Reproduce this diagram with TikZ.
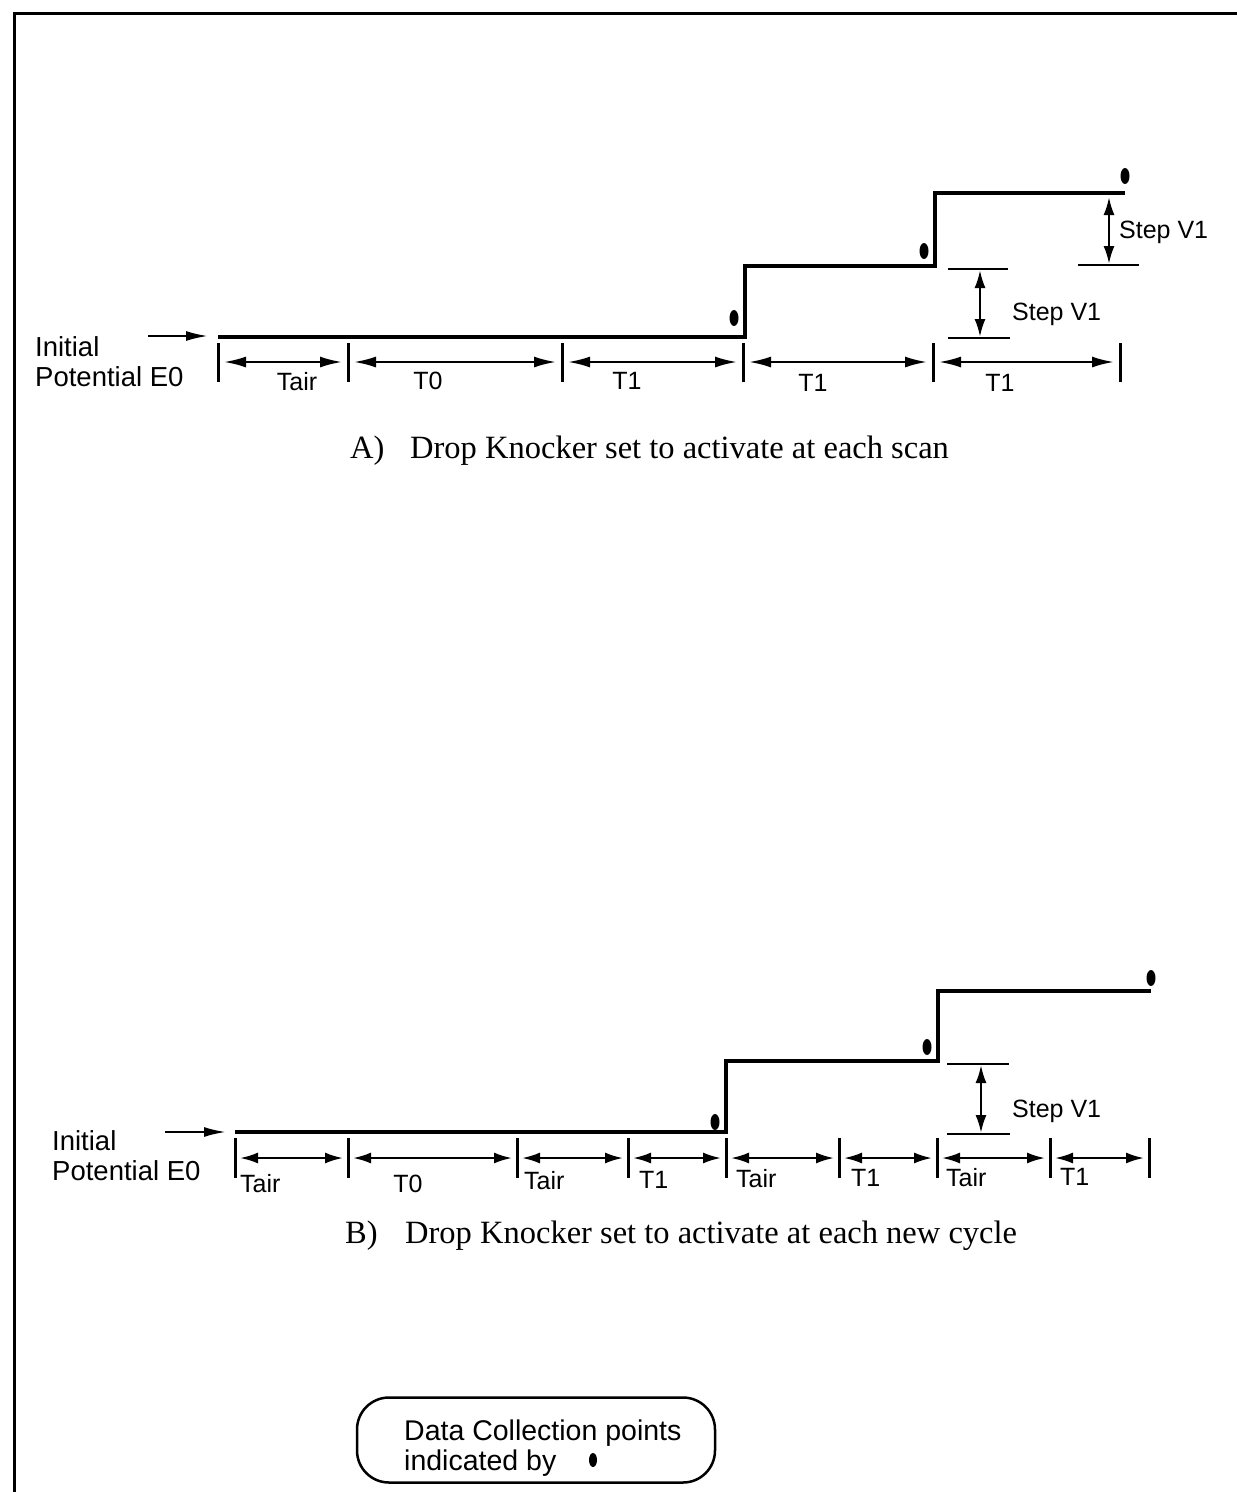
\documentclass[tikz,border=0pt]{standalone}
\usepackage{fontspec}
\setmainfont{Liberation Sans}
\newfontfamily\capfont{Liberation Serif}
\usetikzlibrary{arrows.meta}
\begin{document}
\begin{tikzpicture}[x=1pt,y=-1pt,
  frame/.style={line width=3pt},
  wave/.style={line width=4pt, line join=miter},
  tickmark/.style={line width=3pt},
  dim/.style={line width=2.2pt, {Latex[length=22pt,width=11pt]}-{Latex[length=22pt,width=11pt]}},
  sdim/.style={line width=2.2pt, {Latex[length=18pt,width=11pt]}-{Latex[length=18pt,width=11pt]}},
  vdim/.style={line width=2.4pt, {Latex[length=18pt,width=11pt]}-{Latex[length=18pt,width=11pt]}},
  ptr/.style={line width=2.2pt, -{Latex[length=22pt,width=10pt]}},
  refline/.style={line width=2.2pt},
  big/.style={font=\fontsize{27.5}{32}\selectfont, inner sep=0pt},
  lbl/.style={font=\fontsize{25}{30}\selectfont, inner sep=0pt},
  capt/.style={font=\capfont\fontsize{32.5}{38}\selectfont, inner sep=0pt, anchor=base west},
  legendbox/.style={draw, line width=2.5pt, rounded corners=32pt, minimum width=358pt, minimum height=85pt}
]
\useasboundingbox (0,0) rectangle (1237,1492);
% frame
\draw[frame] (1237,13) -- (14,13) -- (14,1492);

% ================= Panel A =================
\node[big, anchor=base west] (initA) at (35,356) {Initial};
\node[big, anchor=base west] (potA) at (35,386) {Potential E0};
\coordinate (iaS) at (148,336);
\coordinate (iaE) at (208,336);
\draw[ptr] (iaS) -- (iaE);

\coordinate (A0) at (218,337);
\coordinate (A1) at (745,337);
\coordinate (A2) at (745,266);
\coordinate (A3) at (935,266);
\coordinate (A4) at (935,193);
\coordinate (A5) at (1125,193);
\draw[wave] (A0) -- (A1) -- (A2) -- (A3) -- (A4) -- (A5);

\fill (734,318) ellipse [x radius=4.5, y radius=8];
\fill (924,251) ellipse [x radius=4.5, y radius=8];
\fill (1125,176) ellipse [x radius=4.5, y radius=8];

\foreach \n/\x in {0/218,1/348,2/562,3/743,4/933,5/1120}{
  \coordinate (ta\n) at (\x,362);
  \draw[tickmark] (\x,343) -- (\x,382);
}
\foreach \a/\b in {0/1,1/2,2/3,3/4,4/5}{
  \draw[dim] ([xshift=6pt]ta\a) -- ([xshift=-6pt]ta\b);
}
\node[lbl, anchor=base] (la1) at (297,390) {Tair};
\node[lbl, anchor=base] (la2) at (428,389) {T0};
\node[lbl, anchor=base] (la3) at (627,389) {T1};
\node[lbl, anchor=base] (la4) at (813,391) {T1};
\node[lbl, anchor=base] (la5) at (1000,391) {T1};

% step V1 (lower)
\coordinate (sa1) at (948,269);
\coordinate (sa2) at (1008,269);
\coordinate (sa3) at (948,338);
\coordinate (sa4) at (1010,338);
\draw[refline] (sa1) -- (sa2);
\draw[refline] (sa3) -- (sa4);
\coordinate (sva1) at (980,270);
\coordinate (sva2) at (980,337);
\draw[vdim] (sva1) -- (sva2);
\node[lbl, anchor=base west] (stepA1) at (1012,320) {Step V1};
% step V1 (upper)
\coordinate (sb1) at (1078,265);
\coordinate (sb2) at (1139,265);
\draw[refline] (sb1) -- (sb2);
\coordinate (svb1) at (1109,197);
\coordinate (svb2) at (1109,264);
\draw[vdim] (svb1) -- (svb2);
\node[lbl, anchor=base west] (stepA2) at (1119,238) {Step V1};

\node[capt] (capA1) at (350,458) {A)};
\node[capt] (capA2) at (410,458) {Drop Knocker set to activate at each scan};

% ================= Panel B =================
\node[big, anchor=base west] (initB) at (52,1150) {Initial};
\node[big, anchor=base west] (potB) at (52,1180) {Potential E0};
\coordinate (ibS) at (165,1132);
\coordinate (ibE) at (226,1132);
\draw[ptr] (ibS) -- (ibE);

\coordinate (B0) at (235,1132);
\coordinate (B1) at (726,1132);
\coordinate (B2) at (726,1061);
\coordinate (B3) at (938,1061);
\coordinate (B4) at (938,991);
\coordinate (B5) at (1151,991);
\draw[wave] (B0) -- (B1) -- (B2) -- (B3) -- (B4) -- (B5);

\fill (715,1122) ellipse [x radius=4.5, y radius=8];
\fill (927,1047) ellipse [x radius=4.5, y radius=8];
\fill (1151,978) ellipse [x radius=4.5, y radius=8];

\foreach \n/\x in {0/235,1/348,2/517,3/628,4/726,5/839,6/937,7/1050,8/1149}{
  \coordinate (tb\n) at (\x,1158);
  \draw[tickmark] (\x,1138) -- (\x,1178);
}
\foreach \a/\b in {0/1,1/2,2/3,3/4,4/5,5/6,6/7,7/8}{
  \draw[sdim] ([xshift=5pt]tb\a) -- ([xshift=-5pt]tb\b);
}
\node[lbl, anchor=base west] (lb1) at (240,1192) {Tair};
\node[lbl, anchor=base] (lb2) at (408,1192) {T0};
\node[lbl, anchor=base west] (lb3) at (524,1189) {Tair};
\node[lbl, anchor=base west] (lb4) at (639,1188) {T1};
\node[lbl, anchor=base west] (lb5) at (736,1187) {Tair};
\node[lbl, anchor=base west] (lb6) at (851,1186) {T1};
\node[lbl, anchor=base west] (lb7) at (946,1186) {Tair};
\node[lbl, anchor=base west] (lb8) at (1060,1185) {T1};

% step V1
\coordinate (sc1) at (947,1064);
\coordinate (sc2) at (1009,1064);
\coordinate (sc3) at (947,1134);
\coordinate (sc4) at (1010,1134);
\draw[refline] (sc1) -- (sc2);
\draw[refline] (sc3) -- (sc4);
\coordinate (svc1) at (981,1065);
\coordinate (svc2) at (981,1133);
\draw[vdim] (svc1) -- (svc2);
\node[lbl, anchor=base west] (stepB) at (1012,1117) {Step V1};

\node[capt] (capB1) at (345,1243) {B)};
\node[capt] (capB2) at (405,1243) {Drop Knocker set to activate at each new cycle};

% ================= Legend =================
\node[legendbox] (legend) at (536,1440) {};
\node[big, font=\fontsize{28.5}{32}\selectfont, anchor=base west] (leg1) at (404,1440) {Data Collection points};
\node[big, font=\fontsize{28.5}{32}\selectfont, anchor=base west] (leg2) at (404,1470) {indicated by};
\fill (593,1460) ellipse [x radius=4, y radius=7];
\end{tikzpicture}
\end{document}
